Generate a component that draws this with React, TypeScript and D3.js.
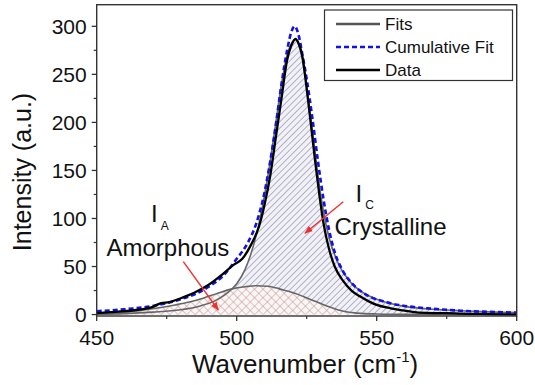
import React from "react";
import * as d3 from "d3";

// ---- data ----
const dataX = [450, 455, 460, 465, 470, 473, 476, 480, 485, 490, 495, 499, 502, 505, 508, 510, 512, 514, 516, 518, 519.5, 521, 522, 523.5, 525, 526.5, 528, 529.5, 531, 533, 535, 538, 541, 544, 547, 550, 555, 560, 565, 570, 575, 580, 590, 600];
const dataY = [1.5, 2.5, 3.5, 5, 8, 12, 13, 17, 23, 31, 42, 52, 58, 72, 92, 115, 145, 185, 225, 265, 280, 287, 283, 268, 235, 198, 160, 125, 95, 68, 50, 35, 25, 19, 14, 10, 6.5, 4, 2, 1.5, 1.5, 1, 0.5, 0];

const crystX = [450, 460, 470, 480, 487, 492, 496, 500, 503, 506, 508, 510, 512, 514, 516, 518, 520, 521, 522, 523.5, 525, 527, 529, 531, 533, 536, 540, 545, 550, 555, 560, 570, 580, 590, 600];
const crystY = [0.5, 1, 2.5, 5, 9, 14, 21, 32, 47, 72, 95, 125, 160, 200, 240, 270, 284, 286, 282, 265, 237, 192, 145, 107, 80, 55, 36, 23, 16, 11.5, 8.5, 5.5, 4, 2.8, 2];

const amorX = [450, 460, 470, 478, 483, 488, 493, 498, 503, 507, 511, 515, 518, 521, 524, 527, 530, 533, 536, 539, 543, 550, 560, 600];
const amorY = [1, 2.5, 6, 10, 13, 17, 22, 26.5, 29, 30, 29.5, 27, 24.5, 22, 18.5, 15, 11.5, 8, 5, 3, 1.5, 0.6, 0.2, 0];

const cumX = [450, 460, 470, 475, 480, 485, 490, 495, 500, 504, 507, 510, 512, 514, 516, 518, 519.5, 520.7, 522, 523.5, 525, 527, 529, 531, 533, 535, 538, 541, 544, 548, 552, 556, 560, 568, 575, 580, 590, 600];
const cumY = [3.5, 5.5, 9, 12, 16, 21, 29, 40, 58, 75, 95, 128, 160, 198, 240, 275, 294, 300, 292, 270, 245, 205, 160, 120, 88, 65, 45, 33, 25, 18, 14, 11, 9, 6.5, 5, 4, 2.8, 2];

const xTicks = [450, 500, 550, 600];
const xMinor = [475, 525, 575];
const yTicks = [0, 50, 100, 150, 200, 250, 300];
const yMinor = [25, 75, 125, 175, 225, 275];

const legendItems = ["Fits", "Cumulative Fit", "Data"];

export default function App() {
  const W = 535, H = 385;
  const left = 96.7, right = 516.7, top = 4.7, bottom = 316;
  const x = d3.scaleLinear().domain([450, 600]).range([left, right]);
  const y = d3.scaleLinear().domain([-1.5, 322.5]).range([bottom, top]);
  const font = "'Liberation Sans', Arial, sans-serif";

  const zip = (xs: number[], ys: number[]) => xs.map((v, i) => [v, ys[i]] as [number, number]);
  const line = d3.line<[number, number]>().x(d => x(d[0])).y(d => y(d[1])).curve(d3.curveMonotoneX);
  const area = d3.area<[number, number]>().x(d => x(d[0])).y0(y(0)).y1(d => y(d[1])).curve(d3.curveMonotoneX);

  const data = zip(dataX, dataY);
  const cryst = zip(crystX, crystY);
  const amor = zip(amorX, amorY);
  const cum = zip(cumX, cumY);

  const axisColor = "#333";

  return (
    <svg width={W} height={H} style={{ position: "absolute", left: 0, top: 0, background: "#fff" }} fontFamily={font}>
      <defs>
        <clipPath id="plot">
          <rect x={left} y={top} width={right - left} height={bottom - top} />
        </clipPath>
        <pattern id="hatchC" patternUnits="userSpaceOnUse" width={4.5} height={4.5} patternTransform="rotate(45)">
          <rect width={4.5} height={4.5} fill="#f1f1f7" />
          <line x1={0} y1={0} x2={0} y2={4.5} stroke="#74749a" strokeWidth={1} />
        </pattern>
        <pattern id="hatchA" patternUnits="userSpaceOnUse" width={6} height={6} patternTransform="rotate(45)">
          <rect width={6} height={6} fill="#fbf6f6" />
          <line x1={0} y1={0} x2={0} y2={6} stroke="#b98585" strokeWidth={0.9} />
          <line x1={0} y1={0} x2={6} y2={0} stroke="#b98585" strokeWidth={0.9} />
        </pattern>
        <marker id="arrow" viewBox="0 0 10 10" refX={9} refY={5} markerWidth={6} markerHeight={6} orient="auto">
          <path d="M0,1 L10,5 L0,9 Z" fill="#f03030" />
        </marker>
      </defs>

      <g clipPath="url(#plot)">
        <path d={area(cryst) || ""} fill="url(#hatchC)" />
        <path d={area(amor) || ""} fill="url(#hatchA)" />
        <path d={line(cryst) || ""} fill="none" stroke="#666" strokeWidth={1.6} />
        <path d={line(amor) || ""} fill="none" stroke="#666" strokeWidth={1.6} />
        <path d={line(cum) || ""} fill="none" stroke="#1010e8" strokeWidth={2.6} strokeDasharray="5,3" />
        <path d={line(data) || ""} fill="none" stroke="#000" strokeWidth={2.3} />
      </g>

      {/* frame */}
      <rect x={left} y={top} width={right - left} height={bottom - top} fill="none" stroke={axisColor} strokeWidth={1.4} />

      {/* y ticks */}
      {yTicks.map(t => (
        <g key={"y" + t}>
          <line x1={left - 5} x2={left} y1={y(t)} y2={y(t)} stroke={axisColor} strokeWidth={1.3} />
          <text x={left - 10} y={y(t)} dy="0.36em" textAnchor="end" fontSize={21} fill="#111">{t}</text>
        </g>
      ))}
      {yMinor.map(t => (
        <line key={"ym" + t} x1={left - 3} x2={left} y1={y(t)} y2={y(t)} stroke={axisColor} strokeWidth={1.2} />
      ))}
      {/* x ticks */}
      {xTicks.map(t => (
        <g key={"x" + t}>
          <line x1={x(t)} x2={x(t)} y1={bottom} y2={bottom + 5} stroke={axisColor} strokeWidth={1.3} />
          <text x={x(t)} y={345} textAnchor="middle" fontSize={21} fill="#111">{t}</text>
        </g>
      ))}
      {xMinor.map(t => (
        <line key={"xm" + t} x1={x(t)} x2={x(t)} y1={bottom} y2={bottom + 3} stroke={axisColor} strokeWidth={1.2} />
      ))}

      {/* axis titles */}
      <text transform={`translate(31,172) rotate(-90)`} textAnchor="middle" fontSize={25} fill="#111">Intensity (a.u.)</text>
      <text x={192} y={373} fontSize={26} fill="#111">
        Wavenumber (cm<tspan fontSize={15} dy={-11}>-1</tspan><tspan dy={11}>)</tspan>
      </text>

      {/* legend */}
      <rect x={324.5} y={10} width={188} height={70.5} fill="#fff" stroke={axisColor} strokeWidth={1.2} />
      {legendItems.map((name, i) => {
        const ly = 24 + i * 23;
        return (
          <g key={name}>
            <line x1={336} x2={380} y1={ly} y2={ly}
              stroke={i === 0 ? "#555" : i === 1 ? "#1010e8" : "#000"}
              strokeWidth={i === 1 ? 2.6 : 2.3}
              strokeDasharray={i === 1 ? "5,3" : undefined} />
            <text x={385} y={ly} dy="0.36em" fontSize={17} fill="#111">{name}</text>
          </g>
        );
      })}

      {/* annotations */}
      <text x={151} y={222} fontSize={24} fill="#111">I<tspan fontSize={12} dy={8} dx={3}>A</tspan></text>
      <text x={106.5} y={256} fontSize={24} fill="#111">Amorphous</text>
      <text x={355.5} y={202} fontSize={24} fill="#111">I<tspan fontSize={12} dy={7} dx={3}>C</tspan></text>
      <text x={334.5} y={234.5} fontSize={24} fill="#111">Crystalline</text>

      <line x1={183.3} y1={261.7} x2={218.3} y2={310} stroke="#f03030" strokeWidth={1.4} markerEnd="url(#arrow)" />
      <line x1={343.3} y1={201.7} x2={305} y2={233.3} stroke="#f03030" strokeWidth={1.4} markerEnd="url(#arrow)" />
    </svg>
  );
}
